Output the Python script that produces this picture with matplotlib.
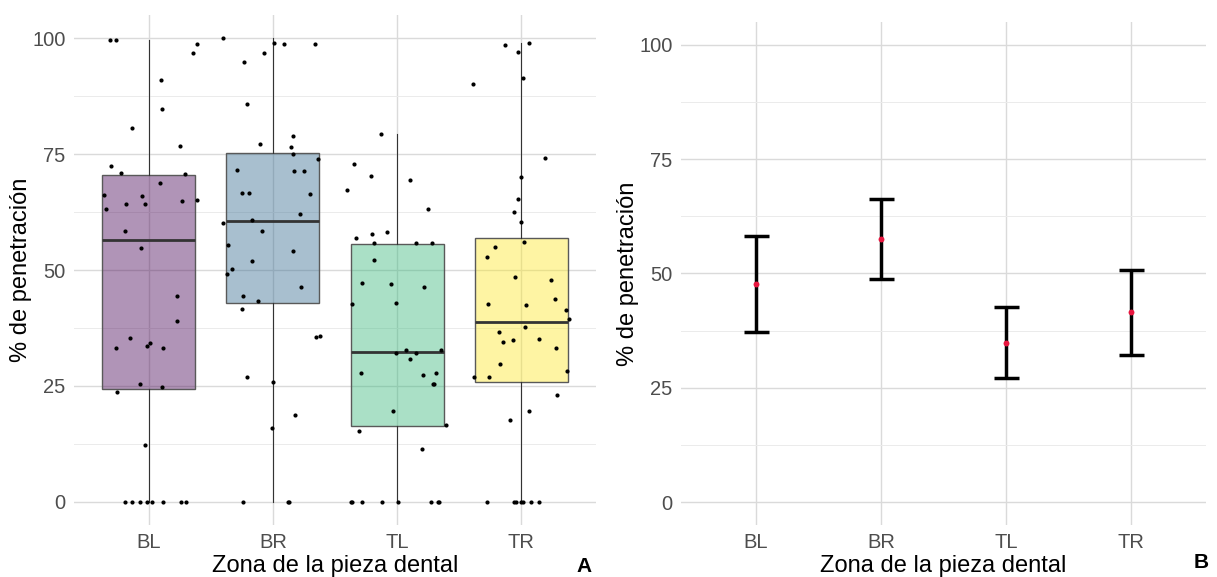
import numpy as np
import matplotlib
matplotlib.use("Agg")
import matplotlib.pyplot as plt
from matplotlib.ticker import MultipleLocator

plt.rcParams['font.family'] = ['Liberation Sans', 'DejaVu Sans']

zonas = ['BL', 'BR', 'TL', 'TR']

# valores individuales (% de penetración) y desplazamiento horizontal del jitter
bl_vals = [99.6, 99.6, 98.7, 96.8, 91.0, 84.7, 80.6, 76.8, 72.5, 71.0, 70.6, 68.7,
           66.1, 65.9, 63.1, 64.2, 64.2, 64.8, 65.0, 58.4, 54.7, 44.4, 38.9, 35.3,
           33.1, 33.6, 34.2, 33.1, 25.4, 24.8, 23.7, 12.3,
           0, 0, 0, 0, 0, 0, 0, 0]
bl_jit = [-0.31, -0.26, 0.39, 0.36, 0.10, 0.11, -0.13, 0.25, -0.30, -0.22, 0.29, 0.09,
          -0.36, -0.05, -0.34, -0.18, -0.03, 0.27, 0.39, -0.19, -0.06, 0.23, 0.23, -0.15,
          -0.26, -0.01, 0.01, 0.12, -0.07, 0.11, -0.25, -0.03,
          -0.19, -0.13, -0.07, -0.01, 0.03, 0.12, 0.26, 0.30]

br_vals = [100.1, 98.9, 98.7, 98.7, 96.8, 94.8, 85.8, 78.8, 77.1, 76.6, 75.1, 74.0,
           71.5, 71.3, 71.3, 66.7, 66.7, 66.5, 62.0, 60.1, 60.7, 58.4, 55.3, 54.1,
           52.0, 50.3, 49.2, 46.4, 44.4, 43.4, 41.6, 35.6, 35.8, 26.9, 25.8, 18.7,
           16.0, 0, 0, 0]
br_jit = [-0.40, 0.01, 0.09, 0.34, -0.07, -0.23, -0.21, 0.16, -0.10, 0.15, 0.16, 0.36,
          -0.29, 0.17, 0.25, -0.25, -0.19, 0.30, 0.22, -0.40, -0.17, -0.09, -0.36, 0.16,
          -0.17, -0.33, -0.37, 0.23, -0.24, -0.12, -0.25, 0.35, 0.38, -0.21, 0.00, 0.18,
          -0.01, -0.24, 0.12, 0.13]

tl_vals = [79.4, 72.8, 70.2, 69.5, 67.2, 63.1, 56.8, 57.8, 58.2, 55.8, 55.8, 55.8,
           52.2, 47.2, 47.0, 46.4, 42.7, 42.9, 32.2, 32.7, 32.2, 32.7, 30.8, 27.7,
           27.3, 27.7, 25.4, 25.4, 19.6, 16.6, 15.3, 11.5,
           0, 0, 0, 0, 0, 0, 0, 0]
tl_jit = [-0.13, -0.35, -0.21, 0.10, -0.40, 0.25, -0.33, -0.20, -0.08, -0.19, 0.15, 0.28,
          -0.19, -0.28, -0.05, 0.22, -0.36, -0.01, -0.01, 0.07, 0.15, 0.35, 0.10, -0.29,
          0.21, 0.31, 0.29, 0.30, -0.03, 0.39, -0.31, 0.20,
          -0.37, -0.36, -0.28, -0.12, 0.01, 0.27, 0.33, 0.34]

tr_vals = [98.5, 98.9, 97.1, 90.1, 91.4, 74.2, 70.0, 65.4, 62.6, 60.3, 56.0, 54.9,
           52.8, 48.5, 47.9, 43.8, 42.7, 42.5, 41.4, 39.4, 37.8, 36.6, 34.4, 34.8,
           35.1, 33.1, 29.7, 28.2, 26.9, 26.9, 23.1, 19.6, 17.7,
           0, 0, 0, 0, 0, 0, 0]
tr_jit = [-0.13, 0.06, -0.03, -0.39, 0.01, 0.19, 0.00, -0.03, -0.06, 0.00, 0.02, -0.21,
          -0.28, -0.05, 0.24, 0.27, -0.27, 0.04, 0.36, 0.38, 0.03, -0.18, -0.15, -0.07,
          0.14, 0.28, -0.17, 0.37, -0.38, -0.26, 0.29, 0.06, -0.09,
          -0.28, -0.06, -0.04, 0.00, 0.01, 0.08, 0.14]

# resumen de cajas
q1 = [24.4, 42.8, 16.3, 25.9]
mediana = [56.4, 60.5, 32.4, 38.7]
q3 = [70.5, 75.2, 55.7, 57.0]
bigote_inf = [0, 0, 0, 0]
bigote_sup = [99.6, 100.1, 79.4, 98.9]

# panel B: media e intervalo
media = [47.8, 57.6, 34.9, 41.6]
ic_inf = [37.2, 48.7, 27.2, 32.2]
ic_sup = [58.3, 66.4, 42.7, 50.8]

colores = ['#440154', '#31688E', '#35B779', '#FDE725']


def estilo(ax):
    ax.set_xlim(0.4, 4.6)
    ax.set_ylim(-5, 105)
    ax.set_xticks(range(1, 5))
    ax.set_xticklabels(zonas)
    ax.yaxis.set_major_locator(MultipleLocator(25))
    ax.yaxis.set_minor_locator(MultipleLocator(12.5))
    ax.set_axisbelow(True)
    ax.grid(which='major', color='#DADADA', lw=1.0)
    ax.grid(which='minor', axis='y', color='#EBEBEB', lw=0.7)
    for s in ax.spines.values():
        s.set_visible(False)
    ax.tick_params(which='both', length=0, labelsize=14.5, labelcolor='#4D4D4D', pad=6)
    ax.set_xlabel('Zona de la pieza dental', fontsize=17, labelpad=2)
    ax.set_ylabel('% de penetración', fontsize=17, labelpad=0)


fig = plt.figure(figsize=(12.17, 5.77), dpi=100)
axA = fig.add_axes([0.0608, 0.0901, 0.4289, 0.8839])
axB = fig.add_axes([0.5596, 0.0901, 0.4314, 0.8718])

stats = []
for i in range(4):
    stats.append(dict(med=mediana[i], q1=q1[i], q3=q3[i],
                      whislo=bigote_inf[i], whishi=bigote_sup[i], label=zonas[i]))
bp = axA.bxp(stats, positions=range(1, 5), widths=0.75, patch_artist=True,
             showfliers=False, showcaps=False,
             boxprops=dict(edgecolor='#595959', lw=1.0),
             medianprops=dict(color='#333333', lw=2.0),
             whiskerprops=dict(color='#333333', lw=0.8))
for patch, c in zip(bp['boxes'], colores):
    rgb = matplotlib.colors.to_rgb(c)
    patch.set_facecolor((*rgb, 0.42))

for i, (v, j) in enumerate([(bl_vals, bl_jit), (br_vals, br_jit),
                            (tl_vals, tl_jit), (tr_vals, tr_jit)]):
    axA.scatter(np.array(j) + i + 1, v, s=9, color='black', zorder=4, lw=0)

estilo(axA)

x = np.arange(1, 5)
axB.vlines(x, ic_inf, ic_sup, color='black', lw=2.5, zorder=3)
axB.hlines(ic_inf, x - 0.1, x + 0.1, color='black', lw=2.5, zorder=3)
axB.hlines(ic_sup, x - 0.1, x + 0.1, color='black', lw=2.5, zorder=3)
axB.scatter(x, media, s=18, color='#E8163F', zorder=4, lw=0)
estilo(axB)

fig.text(0.474, 0.009, 'A', fontsize=15, fontweight='bold')
fig.text(0.981, 0.015, 'B', fontsize=15, fontweight='bold')

fig.savefig('out.png', dpi=100, facecolor='white')
